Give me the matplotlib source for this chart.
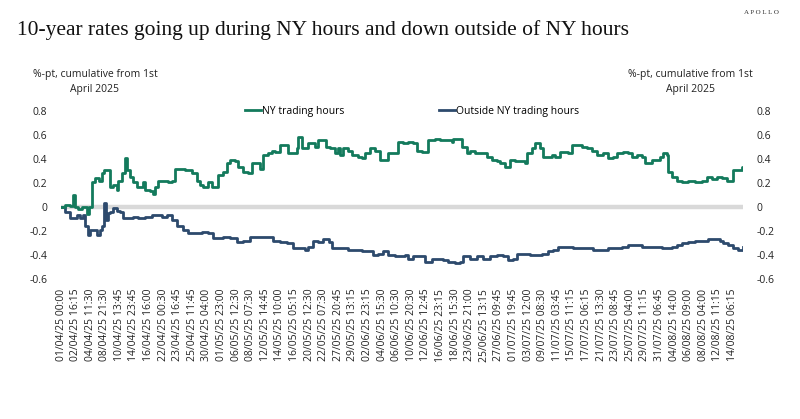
import matplotlib
matplotlib.use('Agg')
import matplotlib.pyplot as plt

# observation index (15-min bars), 100 bars between tick labels
ny_obs = [0, 27, 62, 82, 96, 116, 144, 178, 192, 212, 233, 260, 281, 295, 329, 336, 356, 384, 390,
          418, 438, 452, 473, 493, 521, 541, 562, 575, 610, 630, 644, 664, 712, 733, 760, 781, 829,
          849, 897, 932, 952, 973, 1007, 1034, 1055, 1075, 1110, 1137, 1158, 1192, 1212, 1247, 1281,
          1308, 1343, 1363, 1384, 1418, 1445, 1466, 1500, 1534, 1555, 1589, 1617, 1623, 1651, 1685,
          1692, 1740, 1760, 1795, 1815, 1843, 1877, 1897, 1911, 1932, 1966, 1993, 2034, 2062, 2082,
          2117, 2151, 2185, 2219, 2240, 2288, 2308, 2343, 2377, 2411, 2439, 2473, 2493, 2514, 2562,
          2596, 2644, 2678, 2685, 2719, 2747, 2781, 2802, 2836, 2884, 2918, 2952, 2987, 3007, 3041,
          3076, 3110, 3144, 3178, 3192, 3226, 3247, 3281, 3302, 3336, 3363, 3384, 3418, 3452, 3473,
          3500, 3541, 3569, 3603, 3637, 3672, 3713, 3747, 3781, 3809, 3850, 3884, 3911, 3946, 3980,
          4000, 4035, 4049, 4083, 4103, 4124, 4151, 4158, 4186, 4220, 4254, 4295, 4343, 4391, 4425,
          4459, 4494, 4528, 4562, 4597, 4603, 4637, 4665, 4672]
ny_val = [0.0, 0.02, 0.01, 0.10, 0.0, -0.02, 0.0, -0.06, 0.0, 0.21, 0.24, 0.22, 0.28, 0.31, 0.31,
          0.17, 0.18, 0.14, 0.22, 0.28, 0.41, 0.31, 0.25, 0.21, 0.17, 0.17, 0.21, 0.14, 0.13, 0.11,
          0.17, 0.22, 0.22, 0.21, 0.22, 0.32, 0.32, 0.31, 0.28, 0.22, 0.18, 0.17, 0.21, 0.17, 0.17,
          0.27, 0.29, 0.37, 0.39, 0.38, 0.33, 0.29, 0.28, 0.37, 0.37, 0.32, 0.43, 0.45, 0.47, 0.46,
          0.52, 0.52, 0.45, 0.45, 0.49, 0.58, 0.49, 0.49, 0.53, 0.50, 0.56, 0.56, 0.50, 0.49, 0.45,
          0.49, 0.43, 0.49, 0.47, 0.43, 0.42, 0.41, 0.45, 0.49, 0.47, 0.39, 0.39, 0.45, 0.45, 0.54,
          0.53, 0.54, 0.53, 0.47, 0.46, 0.46, 0.56, 0.57, 0.56, 0.56, 0.54, 0.57, 0.57, 0.50, 0.45,
          0.47, 0.45, 0.45, 0.42, 0.39, 0.38, 0.37, 0.33, 0.39, 0.38, 0.38, 0.37, 0.45, 0.49, 0.53,
          0.49, 0.42, 0.42, 0.43, 0.42, 0.46, 0.46, 0.45, 0.52, 0.52, 0.50, 0.49, 0.47, 0.43, 0.45,
          0.41, 0.42, 0.45, 0.46, 0.45, 0.42, 0.43, 0.42, 0.37, 0.37, 0.39, 0.39, 0.42, 0.45, 0.43,
          0.29, 0.25, 0.22, 0.21, 0.22, 0.21, 0.22, 0.25, 0.23, 0.25, 0.24, 0.22, 0.22, 0.31, 0.31,
          0.33, 0.32]

out_obs = [0, 27, 62, 96, 110, 130, 151, 164, 185, 199, 233, 247, 267, 281, 295, 308, 322, 336,
           356, 384, 404, 425, 459, 493, 527, 575, 623, 692, 726, 760, 795, 836, 870, 932, 966,
           1007, 1041, 1089, 1110, 1158, 1206, 1247, 1295, 1411, 1452, 1500, 1548, 1589, 1637,
           1671, 1692, 1726, 1760, 1795, 1822, 1836, 1856, 1932, 1966, 2014, 2062, 2103, 2137,
           2171, 2206, 2240, 2288, 2356, 2377, 2411, 2445, 2493, 2541, 2582, 2617, 2651, 2699,
           2733, 2754, 2802, 2850, 2891, 2939, 2987, 3028, 3062, 3096, 3124, 3165, 3213, 3261,
           3295, 3336, 3370, 3404, 3466, 3507, 3603, 3644, 3706, 3747, 3795, 3843, 3884, 3932,
           3980, 4069, 4117, 4151, 4186, 4220, 4254, 4295, 4343, 4391, 4432, 4480, 4514, 4535,
           4569, 4603, 4637, 4672]
out_val = [0.0, -0.04, -0.09, -0.09, -0.07, -0.09, -0.07, -0.16, -0.23, -0.19, -0.19, -0.23,
           -0.19, -0.16, 0.03, -0.11, -0.05, -0.04, -0.01, -0.03, -0.04, -0.09, -0.09, -0.08,
           -0.09, -0.08, -0.07, -0.08, -0.07, -0.11, -0.16, -0.19, -0.22, -0.22, -0.21, -0.22,
           -0.26, -0.26, -0.25, -0.26, -0.29, -0.28, -0.25, -0.25, -0.28, -0.29, -0.30, -0.34,
           -0.34, -0.36, -0.33, -0.28, -0.29, -0.27, -0.27, -0.29, -0.34, -0.34, -0.36, -0.36,
           -0.37, -0.37, -0.40, -0.39, -0.37, -0.40, -0.41, -0.40, -0.43, -0.41, -0.41, -0.46,
           -0.43, -0.43, -0.44, -0.46, -0.47, -0.46, -0.41, -0.43, -0.41, -0.43, -0.41, -0.40,
           -0.41, -0.44, -0.43, -0.39, -0.39, -0.40, -0.40, -0.39, -0.37, -0.36, -0.33, -0.33,
           -0.34, -0.34, -0.36, -0.36, -0.34, -0.34, -0.33, -0.32, -0.32, -0.33, -0.33, -0.34,
           -0.34, -0.33, -0.32, -0.30, -0.29, -0.28, -0.28, -0.27, -0.27, -0.28, -0.30, -0.32,
           -0.34, -0.36, -0.33]

tick_labels = ['01/04/25 00:00', '02/04/25 16:15', '04/04/25 11:30', '08/04/25 21:30',
               '10/04/25 13:45', '14/04/25 23:45', '16/04/25 16:00', '22/04/25 00:30',
               '23/04/25 16:45', '25/04/25 11:45', '30/04/25 04:00', '01/05/25 23:00',
               '06/05/25 12:30', '08/05/25 07:30', '12/05/25 14:45', '14/05/25 10:00',
               '16/05/25 05:15', '20/05/25 12:30', '22/05/25 07:30', '27/05/25 20:45',
               '29/05/25 13:15', '02/06/25 23:15', '04/06/25 15:30', '06/06/25 10:30',
               '10/06/25 20:30', '12/06/25 12:45', '16/06/25 23:15', '18/06/25 15:30',
               '23/06/25 21:00', '25/06/25 13:15', '27/06/25 09:45', '01/07/25 19:45',
               '03/07/25 12:00', '09/07/25 08:30', '11/07/25 03:45', '15/07/25 11:15',
               '17/07/25 06:15', '21/07/25 13:30', '23/07/25 08:45', '25/07/25 04:00',
               '29/07/25 11:15', '31/07/25 06:45', '04/08/25 14:00', '06/08/25 09:00',
               '08/08/25 04:00', '12/08/25 11:15', '14/08/25 06:15']
tick_step = 100

GREEN = '#137a5c'
NAVY = '#2d4a6d'

plt.rcParams['font.family'] = ['Open Sans', 'DejaVu Sans']

fig = plt.figure(figsize=(8, 4.19), dpi=100)
ax = fig.add_axes([61 / 800, 1 - 279 / 419, (743 - 61) / 800, 168 / 419])

ax.axhline(0, color='#d9d9d9', lw=3.2, zorder=1)
ax.plot(ny_obs, ny_val, drawstyle='steps-post', color=GREEN, lw=2.0,
        label='NY trading hours', zorder=3)
ax.plot(out_obs, out_val, drawstyle='steps-post', color=NAVY, lw=2.0,
        label='Outside NY trading hours', zorder=2)

ax.set_xlim(0, ny_obs[-1])
ax.set_ylim(-0.6, 0.8)
ax.set_yticks([-0.6, -0.4, -0.2, 0, 0.2, 0.4, 0.6, 0.8])
ax.set_yticklabels(['-0.6', '-0.4', '-0.2', '0', '0.2', '0.4', '0.6', '0.8'])
ax.set_xticks([i * tick_step for i in range(len(tick_labels))])
ax.set_xticklabels(tick_labels, rotation=90)
ax.tick_params(axis='y', length=0, pad=10, labelsize=7.5, labelright=True, colors='#222222')
ax.tick_params(axis='x', length=0, pad=7, labelsize=7.5, colors='#222222')
for s in ax.spines.values():
    s.set_visible(False)

fig.legend(loc='center', bbox_to_anchor=(412 / 800, 1 - 111 / 419), ncol=2, frameon=False,
           fontsize=7.5, handlelength=1.6, handletextpad=0.1, columnspacing=9.0)

fig.text(17 / 800, 1 - 30 / 419, '10-year rates going up during NY hours and down outside of NY hours',
         family='Liberation Serif', fontsize=15.5, va='center', ha='left', color='#111111')
fig.text(779 / 800, 1 - 12 / 419, 'A P O L L O', family='Liberation Serif', fontsize=5,
         ha='right', va='center', color='#333333')

ylab = '%-pt, cumulative from 1st\nApril 2025'
fig.text(95 / 800, 1 - 82 / 419, ylab, ha='center', va='center', fontsize=7.5,
         linespacing=1.5, color='#222222')
fig.text(690 / 800, 1 - 82 / 419, ylab, ha='center', va='center', fontsize=7.5,
         linespacing=1.5, color='#222222')

fig.savefig('out.png', dpi=100)
